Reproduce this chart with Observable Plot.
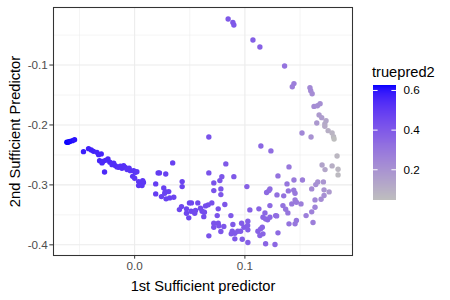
<!DOCTYPE html>
<html>
<head>
<meta charset="utf-8">
<script src="https://cdn.jsdelivr.net/npm/d3@7"></script>
<script src="https://cdn.jsdelivr.net/npm/@observablehq/plot@0.6"></script>
<style>
  body { margin: 0; background: #fff; font-family: "Liberation Sans", Arial, sans-serif; }
  #wrap { position: relative; width: 450px; height: 300px; }
  #legend { position: absolute; left: 373px; top: 85px; }
  #ltitle { position: absolute; left: 372px; top: 65px; font-size: 14.67px; line-height: 1; color: #000; }
</style>
</head>
<body>
<div id="wrap">
  <div id="main"></div>
  <div id="ltitle">truepred2</div>
  <div id="legend"></div>
</div>
<script>
// 1st sufficient predictor
const x1 = [
-0.0615,-0.0605,-0.0595,-0.0585,-0.0564,-0.0545,-0.0464,-0.0418,-0.0394,-0.0373,
-0.0342,-0.0327,-0.0303,-0.0318,-0.0288,-0.0296,-0.0273,-0.0265,-0.0242,-0.0225,
-0.0205,-0.0190,-0.0176,-0.0160,-0.0145,-0.0130,-0.0115,-0.0100,-0.0085,-0.0069,
-0.0050,-0.0039,-0.0009,0.0006,-0.0018,0.0000,0.0036,0.0052,0.0067,0.0073,
0.0036,0.0080,0.0020,
0.0191,0.0191,0.0213,0.0225,0.0282,0.0243,0.0264,0.0279,0.0309,0.0273,
0.0285,0.0318,0.0355,0.0345,0.0431,0.0431,0.0425,0.0406,0.0470,0.0470,
0.0491,0.0497,0.0515,0.0512,0.0552,0.0545,0.0573,0.0597,0.0612,0.0633,
0.0627,0.0643,0.0667,0.0700,0.0673,0.0673,0.0718,0.0773,0.0791,0.0827,
0.0900,0.0718,0.0782,0.0782,0.0818,0.0758,0.0749,0.0873,0.0718,0.0758,
0.0764,0.0809,0.0718,0.0782,0.0673,0.0891,0.0970,0.1027,0.1025,0.0991,
0.0885,0.0909,0.0936,0.0961,0.0876,0.1027,0.0909,0.0976,0.1027,0.1018,
0.1045,0.1127,0.1182,0.1164,0.1188,0.1206,0.1227,0.1279,0.1118,0.1143,
0.1158,0.1164,0.1136,0.1188,0.1273,0.1300,0.1288,0.1227,0.1218,0.1197,
0.1227,0.1291,0.1300,0.1352,0.1345,0.1370,0.1390,0.1382,0.1400,0.1394,
0.1443,0.1455,0.1445,0.1522,0.1455,0.1467,0.1425,0.1509,0.1467,0.1455,
0.1400,0.1555,0.1618,0.1606,0.1636,0.1636,0.1691,0.1718,0.1606,0.1643,
0.1661,0.1712,0.1718,0.1764,0.1700,0.1727,0.1791,0.1845,0.1845,0.1836,
0.1518,0.1600,0.1145,0.1236,
0.0848,0.0891,0.0900,0.1073,0.1136,0.1360,0.1445,0.1430,0.1590,0.1597,
0.1610,0.1627,0.1658,0.1682,0.1673,0.1697,0.1736,0.1725,0.1652,0.1725,
0.1755,0.1791,0.1804,0.1809
];
// 2nd sufficient predictor
const x2 = [
-0.2289,-0.2290,-0.2280,-0.2273,-0.2262,-0.2245,-0.2445,-0.2395,-0.2417,-0.2440,
-0.2457,-0.2495,-0.2483,-0.2598,-0.2610,-0.2633,-0.2785,-0.2590,-0.2567,-0.2620,
-0.2662,-0.2640,-0.2678,-0.2700,-0.2707,-0.2690,-0.2723,-0.2680,-0.2707,-0.2745,
-0.2720,-0.2762,-0.2762,-0.2790,-0.2857,-0.2890,-0.2945,-0.2983,-0.3012,-0.2928,
-0.3012,-0.2960,-0.2780,
-0.2983,-0.3150,-0.2800,-0.2800,-0.2817,-0.3195,-0.3050,-0.3112,-0.3112,-0.3140,
-0.3233,-0.3217,-0.3207,-0.2633,-0.2945,-0.3028,-0.3362,-0.3412,-0.3400,-0.3473,
-0.3550,-0.3300,-0.3300,-0.3440,-0.3428,-0.3473,-0.3300,-0.3390,-0.3440,-0.3457,
-0.3530,-0.3350,-0.3333,-0.3300,-0.2200,-0.2800,-0.2967,-0.2928,-0.2862,-0.2650,
-0.2862,-0.3095,-0.3067,-0.3162,-0.3328,-0.3400,-0.3512,-0.3512,-0.3640,-0.3640,
-0.3683,-0.3695,-0.3707,-0.3778,-0.3850,-0.3662,-0.3640,-0.3607,-0.3678,-0.3707,
-0.3773,-0.3807,-0.3773,-0.3773,-0.3817,-0.3750,-0.3900,-0.3907,-0.3962,-0.3028,
-0.3417,-0.3400,-0.3467,-0.3540,-0.3567,-0.3583,-0.3540,-0.3512,-0.3773,-0.3733,
-0.3707,-0.3817,-0.3845,-0.3983,-0.3995,-0.3800,-0.3517,-0.3067,-0.3095,-0.3128,
-0.3345,-0.3167,-0.2850,-0.3183,-0.3345,-0.3407,-0.3467,-0.2983,-0.2700,-0.3100,
-0.3090,-0.3140,-0.2917,-0.2917,-0.3250,-0.3290,-0.3317,-0.3317,-0.3595,-0.3650,
-0.3650,-0.3512,-0.3628,-0.3450,-0.3373,-0.3250,-0.3240,-0.3178,-0.3067,-0.2995,
-0.2950,-0.2950,-0.3083,-0.3117,-0.2667,-0.2745,-0.2683,-0.2740,-0.2833,-0.2517,
-0.2133,-0.2200,-0.2350,-0.2433,
-0.0233,-0.0289,-0.0333,-0.0583,-0.0700,-0.1017,-0.1310,-0.1363,-0.1380,-0.1430,
-0.1480,-0.1690,-0.1680,-0.1645,-0.1833,-0.1878,-0.1928,-0.1983,-0.1967,-0.2023,
-0.2095,-0.2133,-0.2195,-0.2233
];
// truepred2 (colour)
const truepred2 = [
0.625,0.62,0.62,0.615,0.61,0.60,0.58,0.57,0.57,0.57,
0.56,0.56,0.56,0.56,0.55,0.55,0.55,0.55,0.55,0.55,
0.54,0.54,0.54,0.54,0.53,0.53,0.53,0.53,0.53,0.52,
0.52,0.52,0.52,0.52,0.52,0.51,0.51,0.51,0.51,0.51,
0.51,0.51,0.51,
0.49,0.49,0.49,0.49,0.48,0.48,0.48,0.48,0.48,0.48,
0.48,0.48,0.47,0.48,0.47,0.47,0.46,0.46,0.46,0.46,
0.46,0.46,0.46,0.46,0.45,0.45,0.45,0.45,0.45,0.44,
0.44,0.44,0.44,0.43,0.42,0.42,0.42,0.41,0.41,0.40,
0.40,0.42,0.41,0.41,0.41,0.42,0.42,0.40,0.42,0.42,
0.42,0.41,0.42,0.41,0.42,0.40,0.39,0.38,0.38,0.39,
0.40,0.40,0.39,0.39,0.40,0.38,0.40,0.39,0.38,0.37,
0.37,0.36,0.35,0.36,0.35,0.35,0.35,0.34,0.37,0.36,
0.36,0.36,0.36,0.36,0.35,0.34,0.33,0.33,0.33,0.34,
0.34,0.32,0.31,0.31,0.31,0.30,0.30,0.30,0.29,0.30,
0.29,0.29,0.28,0.27,0.28,0.28,0.29,0.27,0.30,0.30,
0.31,0.27,0.27,0.26,0.25,0.24,0.22,0.21,0.22,0.21,
0.20,0.19,0.19,0.17,0.14,0.13,0.10,0.07,0.06,0.07,
0.24,0.20,0.35,0.33,
0.40,0.40,0.40,0.38,0.37,0.31,0.27,0.27,0.23,0.23,
0.22,0.22,0.21,0.21,0.17,0.16,0.13,0.12,0.18,0.11,
0.10,0.08,0.07,0.045
];
const xTicks = [0, 0.1];
const yTicks = [-0.4, -0.3, -0.2, -0.1];
const xMinor = [-0.05, 0.05, 0.15];
const yMinor = [-0.35, -0.25, -0.15, -0.05];
const legendTicks = [0.2, 0.4, 0.6];
const colorDomain = [0.045, 0.625];

const points = x1.map((v, i) => ({x1: v, x2: x2[i], truepred2: truepred2[i]}));
const colorScale = {type: "linear", domain: colorDomain, range: ["#BEBEBE", "#0000FF"], interpolate: "lab"};
const font = '"Liberation Sans", Arial, sans-serif';

const main = Plot.plot({
  width: 450, height: 300,
  marginLeft: 53, marginRight: 98, marginTop: 7, marginBottom: 45,
  style: {fontFamily: font, background: "#fff"},
  x: {domain: [-0.0736, 0.1976]},
  y: {domain: [-0.4178, -0.004]},
  color: colorScale,
  marks: [
    Plot.gridX(xMinor, {stroke: "#EBEBEB", strokeOpacity: 1, strokeWidth: 0.55}),
    Plot.gridY(yMinor, {stroke: "#EBEBEB", strokeOpacity: 1, strokeWidth: 0.55}),
    Plot.gridX(xTicks, {stroke: "#EBEBEB", strokeOpacity: 1, strokeWidth: 1.07}),
    Plot.gridY(yTicks, {stroke: "#EBEBEB", strokeOpacity: 1, strokeWidth: 1.07}),
    Plot.dot(points, {x: "x1", y: "x2", fill: "truepred2", r: 2.7, stroke: null}),
    Plot.frame({stroke: "#333333", strokeWidth: 1.07}),
    Plot.axisX(xTicks, {tickSize: 3.67, tickPadding: 3, stroke: "#333333", fill: "#4D4D4D", fontSize: 11.7,
      tickFormat: d => d.toFixed(1),
      label: "1st Sufficient predictor", labelAnchor: "center", labelArrow: "none", labelOffset: 35}),
    Plot.axisY(yTicks, {tickSize: 3.67, tickPadding: 2, stroke: "#333333", fill: "#4D4D4D", fontSize: 11.7,
      tickFormat: d => d.toFixed(1),
      label: "2nd Sufficient Predictor", labelAnchor: "center", labelArrow: "none", labelOffset: 44})
  ]
});
main.querySelectorAll('[aria-label="x-axis label"] text, [aria-label="y-axis label"] text').forEach(t => {
  t.setAttribute("font-size", "14.67"); t.setAttribute("fill", "#000"); t.style.fontSize = "14.67px"; t.style.fill = "#000";
});
document.getElementById("main").appendChild(main);

const step = 0.005;
const bands = d3.range(colorDomain[0], colorDomain[1], step);
const legend = Plot.plot({
  width: 60, height: 115,
  marginLeft: 0, marginRight: 37, marginTop: 0, marginBottom: 0,
  style: {fontFamily: font, background: "transparent", overflow: "visible"},
  x: {domain: [0, 1], axis: null},
  y: {domain: colorDomain},
  color: colorScale,
  marks: [
    Plot.rect(bands, {x1: 0, x2: 1, y1: d => d, y2: d => Math.min(d + step * 1.5, colorDomain[1]),
      fill: d => d + step / 2, inset: 0, shapeRendering: "crispEdges"}),
    Plot.ruleY(legendTicks, {x1: 0, x2: 0.2, stroke: "white", strokeWidth: 1}),
    Plot.ruleY(legendTicks, {x1: 0.8, x2: 1, stroke: "white", strokeWidth: 1}),
    Plot.axisY(legendTicks, {anchor: "right", tickSize: 0, tickPadding: 7, fill: "#000", fontSize: 11.7,
      tickFormat: d => d.toFixed(1), label: null})
  ]
});
document.getElementById("legend").appendChild(legend);
</script>
</body>
</html>
